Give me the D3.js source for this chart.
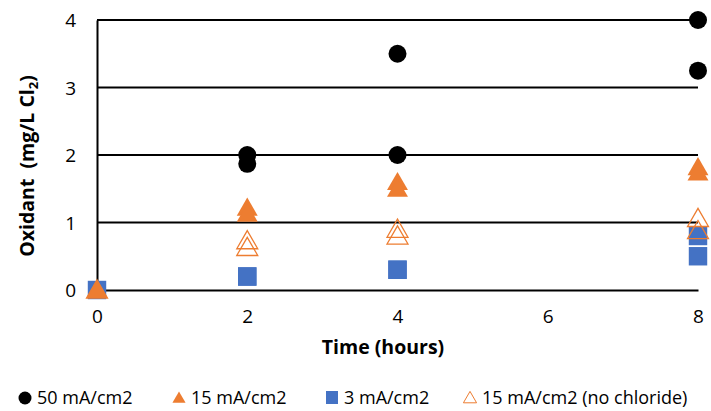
<!DOCTYPE html>
<html>
<head>
<meta charset="utf-8">
<script src="https://cdn.jsdelivr.net/npm/d3@7"></script>
<style>
  html, body { margin: 0; padding: 0; background: #fff; }
  svg { display: block; font-family: "Open Sans", sans-serif; }
</style>
</head>
<body>
<svg id="chart" width="711" height="411"></svg>
<script>
// Oxidant concentration over time for several current densities
const times = [0, 2, 2, 4, 4, 8, 8];
const ma50 = [0, 2.0, 1.87, 3.5, 2.0, 4.0, 3.25];
const ma15 = [0, 1.22, 1.13, 1.6, 1.5, 1.82, 1.74];
const ma3 = [0, 0.2, 0.2, 0.3, 0.3, 0.8, 0.5];
const ma15NoCl = [0, 0.73, 0.63, 0.9, 0.8, 1.06, 0.88];
const xTicks = [0, 2, 4, 6, 8];
const yTicks = [0, 1, 2, 3, 4];

const seriesNames = ["50 mA/cm2", "15 mA/cm2", "3 mA/cm2", "15 mA/cm2 (no chloride)"];
const orange = "#ED7D31", blue = "#4472C4";

const svg = d3.select("#chart");
const x = d3.scaleLinear().domain([0, 8]).range([97, 698]);
const y = d3.scaleLinear().domain([0, 4]).range([290, 20]);

// horizontal gridlines
svg.append("g").selectAll("line").data(yTicks.filter(d => d > 0)).join("line")
  .attr("x1", x(0)).attr("x2", x(8))
  .attr("y1", d => y(d)).attr("y2", d => y(d))
  .attr("stroke", "#000").attr("stroke-width", 2);

// axes
const xAxis = svg.append("g").attr("transform", `translate(0,${y(0)})`)
  .call(d3.axisBottom(x).tickValues(xTicks).tickSize(0).tickPadding(20).tickFormat(d3.format("d")));
const yAxis = svg.append("g").attr("transform", `translate(${x(0)},0)`)
  .call(d3.axisLeft(y).tickValues(yTicks).tickSize(0).tickPadding(21).tickFormat(d3.format("d")));
svg.selectAll(".domain").attr("stroke", "#000").attr("stroke-width", 2);
svg.selectAll(".tick text").attr("font-size", 19).attr("fill", "#000")
  .attr("font-family", "'Open Sans', sans-serif");
yAxis.selectAll(".tick text").attr("dy", "0.36em");

// axis titles
svg.append("text").attr("x", 383).attr("y", 354)
  .attr("text-anchor", "middle").attr("font-size", 19.5).attr("font-weight", "bold")
  .text("Time (hours)");
const yt = svg.append("text")
  .attr("transform", `translate(34,${166}) rotate(-90)`)
  .attr("text-anchor", "middle").attr("font-size", 19.5).attr("font-weight", "bold")
  .style("white-space", "pre");
yt.append("tspan").text("Oxidant  (mg/L Cl");
yt.append("tspan").attr("font-size", 13).attr("dy", 4).text("2");
yt.append("tspan").attr("dy", -4).text(")");

const tri = d3.symbol().type(d3.symbolTriangle).size(190);
const sq = d3.symbol().type(d3.symbolSquare).size(340);

const pts = (vals) => vals.map((v, i) => ({ t: times[i], v }));

// 3 mA/cm2 squares
svg.append("g").selectAll("path").data(pts(ma3)).join("path")
  .attr("d", sq).attr("transform", d => `translate(${x(d.t)},${y(d.v)})`)
  .attr("fill", blue);
// 15 mA/cm2 filled triangles
svg.append("g").selectAll("path").data(pts(ma15)).join("path")
  .attr("d", tri).attr("transform", d => `translate(${x(d.t)},${y(d.v) + 2})`)
  .attr("fill", orange);
// 15 mA/cm2 without chloride, hollow triangles
svg.append("g").selectAll("path").data(pts(ma15NoCl)).join("path")
  .attr("d", tri).attr("transform", d => `translate(${x(d.t)},${y(d.v) + 2})`)
  .attr("fill", "none").attr("stroke", orange).attr("stroke-width", 1.3);
// 50 mA/cm2 circles
svg.append("g").selectAll("circle").data(pts(ma50).filter(d => d.t > 0)).join("circle")
  .attr("cx", d => x(d.t)).attr("cy", d => y(d.v)).attr("r", 9)
  .attr("fill", "#000");

// legend
const legendX = [25, 179, 332, 470];
const lg = svg.append("g").attr("transform", "translate(0,398)");
const items = lg.selectAll("g").data(seriesNames).join("g")
  .attr("transform", (d, i) => `translate(${legendX[i]},0)`);
items.each(function (d, i) {
  const g = d3.select(this);
  if (i === 0) g.append("circle").attr("cx", 0).attr("cy", 0).attr("r", 6.5).attr("fill", "#000");
  if (i === 1) g.append("path").attr("d", d3.symbol().type(d3.symbolTriangle).size(75)).attr("transform", "translate(0,1)").attr("fill", orange);
  if (i === 2) g.append("rect").attr("x", -6).attr("y", -7).attr("width", 12).attr("height", 13).attr("fill", blue);
  if (i === 3) g.append("path").attr("d", d3.symbol().type(d3.symbolTriangle).size(75)).attr("transform", "translate(0,1)").attr("fill", "none").attr("stroke", orange).attr("stroke-width", 1);
  g.append("text").attr("x", 12).attr("y", 6).attr("font-size", 18).text(d);
});
</script>
</body>
</html>
